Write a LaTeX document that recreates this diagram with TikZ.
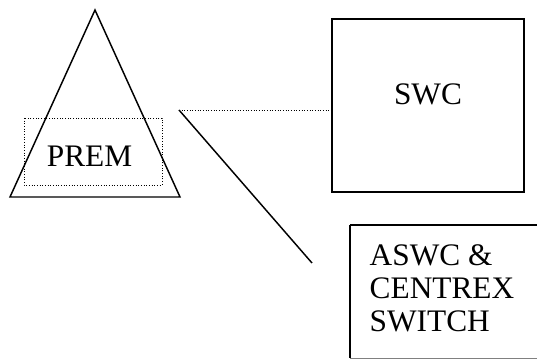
\documentclass[tikz,border=0pt]{standalone}
\usepackage{fontspec}
\setmainfont{Liberation Serif}

\tikzset{every picture/.style={line width=1.1pt}}
\tikzset{lbl/.style={font=\fontsize{23.5}{24.75}\selectfont, inner sep=0pt}}

\begin{document}
\begin{tikzpicture}[x=0.75pt,y=0.75pt,yscale=-1,xscale=1]
	\useasboundingbox (0,0) rectangle (537,360);
	\clip (0,0) rectangle (537,360);

	%Shape: Triangle [id:prem]
	\draw  (95,10) -- (180,197) -- (10,197) -- cycle ;
	%Shape: Rectangle [id:premframe]
	\draw  [line width=0.6pt, dash pattern={on 0.7pt off 1.3pt}] (24,118) rectangle (162,185) ;
	%Shape: Rectangle [id:swcbox]
	\draw  (332,19) rectangle (524,192) ;
	%Shape: Rectangle [id:aswcbox]
	\draw  (350,225) -- (560,225) ;
	\draw  (350,225) -- (350,358) ;
	\draw  [line width=0.5pt, draw=gray] (350,358) -- (560,358) ;

	% Coordinates
	\coordinate (junct) at (179,110) ;
	\coordinate (swcin) at (332,110) ;
	\coordinate (aswcin) at (312,263) ;

	%Straight Lines [id:dotted]
	\draw  [line width=0.6pt, dash pattern={on 0.7pt off 1.3pt}] (junct) -- (swcin) ;
	%Straight Lines [id:solid]
	\draw  (junct) -- (aswcin) ;

	% Text Node
	\draw (89.5,156) node [lbl] (prem) {PREM};
	% Text Node
	\draw (428,94) node [lbl] (swc) {SWC};
	% Text Node
	\draw (369,288) node [lbl, anchor=west, align=left] (aswc) {ASWC \&\\CENTREX\\SWITCH};

\end{tikzpicture}
\end{document}
